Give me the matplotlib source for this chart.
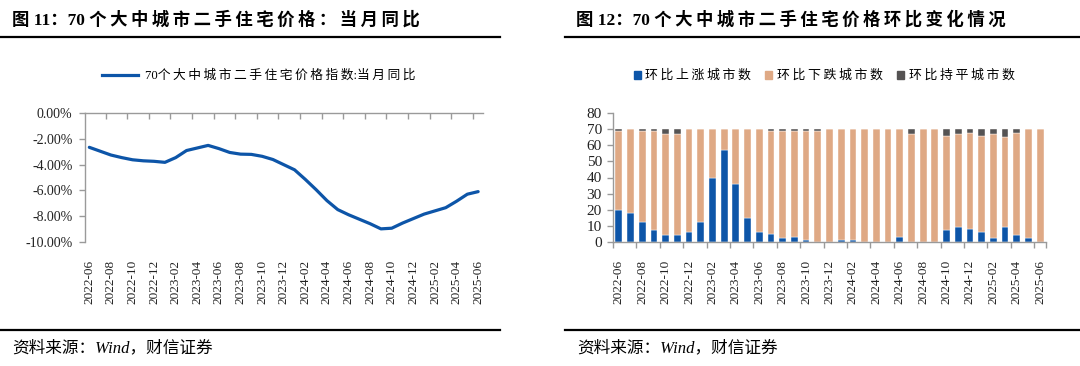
import numpy as np
import pandas as pd
import matplotlib
matplotlib.use('Agg')
import matplotlib.pyplot as plt
from matplotlib.lines import Line2D
from matplotlib.patches import Patch
from matplotlib.ticker import FuncFormatter, FixedLocator

plt.rcParams['font.family'] = ['Liberation Serif', 'Noto Sans CJK SC']
plt.rcParams['axes.unicode_minus'] = False

# --- data ---
months = [p.strftime('%Y-%m') for p in pd.period_range('2022-06', '2025-06', freq='M')]

# 70城二手住宅价格指数 当月同比 (%)
yoy = [-2.65, -2.95, -3.25, -3.45, -3.62, -3.70, -3.74, -3.82, -3.45, -2.90,
       -2.70, -2.50, -2.75, -3.05, -3.18, -3.20, -3.35, -3.60, -4.00, -4.40,
       -5.15, -5.95, -6.80, -7.50, -7.90, -8.25, -8.60, -9.00, -8.95, -8.55,
       -8.20, -7.85, -7.60, -7.35, -6.85, -6.30, -6.10]

# 环比 上涨 / 下跌 / 持平 城市数
up = [20, 18, 12, 7, 4, 4, 6, 12, 40, 57, 36, 15, 6, 5, 2, 3, 1, 0, 0, 1,
      1, 0, 0, 0, 3, 0, 0, 0, 7, 9, 8, 6, 2, 9, 4, 2, 0]
down = [49, 52, 57, 62, 63, 63, 64, 58, 30, 13, 34, 55, 64, 64, 67, 66, 68, 69, 70, 69,
        69, 70, 70, 70, 67, 67, 70, 70, 59, 58, 60, 60, 65, 56, 64, 68, 70]
flat = [1, 0, 1, 1, 3, 3, 0, 0, 0, 0, 0, 0, 0, 1, 1, 1, 1, 1, 0, 0,
        0, 0, 0, 0, 0, 3, 0, 0, 4, 3, 2, 4, 3, 5, 2, 0, 0]

BLUE = '#0d55a8'
TAN = '#dfa985'
DARK = '#555353'
GREY = '#9a9a9a'

W, H = 1080, 366
fig = plt.figure(figsize=(W / 100, H / 100), dpi=100)
fig.patch.set_facecolor('white')


def fx(px):
    return px / W


def fy(py):
    return 1 - py / H


def spaced(s):
    # thin gap between CJK glyphs, like the loose typesetting of the report
    out = ''
    for i, ch in enumerate(s):
        out += ch
        if i + 1 < len(s) and ord(ch) > 0x2e80 and ord(s[i + 1]) > 0x2e80:
            out += '\u2009'
    return out


# --- headers / footers ---
fig.text(fx(12), fy(20), spaced('图 11：70 个大中城市二手住宅价格：当月同比'),
         fontsize=12.5, fontweight='bold', va='center', ha='left')
fig.text(fx(576), fy(20), spaced('图 12：70 个大中城市二手住宅价格环比变化情况'),
         fontsize=12.5, fontweight='bold', va='center', ha='left')
for x0, x1 in [(0, 500), (565, 1080)]:
    fig.add_artist(Line2D([fx(x0), fx(x1)], [fy(36.5)] * 2, color='black', lw=1.6))
    fig.add_artist(Line2D([fx(x0), fx(x1)], [fy(330)] * 2, color='black', lw=1.6))
fig.text(fx(12), fy(348), '资料来源：Wind，财信证券', fontsize=12, style='italic',
         va='center', ha='left')
fig.text(fx(577), fy(348), '资料来源：Wind，财信证券', fontsize=12, style='italic',
         va='center', ha='left')

x = np.arange(len(months))
label_pos = x[::2]
label_txt = months[::2]
bound_pos = list(label_pos - 0.5)

# --- left: line chart ---
ax1 = fig.add_axes([fx(85), fy(241.7), fx(483) - fx(85), fy(113.3) - fy(241.7)])
ax1.plot(x, yoy, color=BLUE, lw=2.3, solid_capstyle='round')
ax1.set_xlim(-0.4, 36.45)
ax1.set_ylim(-10, 0)
ax1.set_yticks(np.arange(-10, 0.1, 2))
ax1.yaxis.set_major_formatter(FuncFormatter(lambda v, p: f'{v:.2f}%'))
for s in ['right', 'bottom']:
    ax1.spines[s].set_visible(False)
for s in ['left', 'top']:
    ax1.spines[s].set_color(GREY)
    ax1.spines[s].set_linewidth(1)
ax1.tick_params(axis='y', direction='out', length=4, width=1, color=GREY,
                labelsize=10, pad=5, labelcolor='#222222')
ax1.set_xticks(label_pos)
ax1.set_xticklabels(label_txt, rotation=90, fontsize=9.5, color='#222222')
ax1.tick_params(axis='x', which='major', bottom=True, top=False, length=0, pad=13)
ax1.xaxis.set_minor_locator(FixedLocator(bound_pos))
ax1.tick_params(axis='x', which='minor', bottom=False, top=True, direction='in',
                length=4, width=1, color=GREY)

ax1.legend(handles=[Line2D([], [], color=BLUE, lw=2.3)],
           labels=[spaced('70个大中城市二手住宅价格指数:当月同比')],
           loc='center', bbox_to_anchor=(fx(259), fy(76)),
           bbox_transform=fig.transFigure, frameon=False, fontsize=9.2,
           handlelength=2.8, handletextpad=0.6)

# --- right: stacked bars ---
ax2 = fig.add_axes([fx(613), fy(241.7), fx(1046) - fx(613), fy(113.3) - fy(241.7)])
bw = 0.58
up_a = np.array(up)
down_a = np.array(down)
ax2.bar(x, up_a, width=bw, color=BLUE, edgecolor='white', linewidth=0.3)
ax2.bar(x, down_a, width=bw, bottom=up_a, color=TAN, edgecolor='white', linewidth=0.3)
ax2.bar(x, flat, width=bw, bottom=up_a + down_a, color=DARK, edgecolor='white', linewidth=0.3)
ax2.set_xlim(-0.5, 36.5)
ax2.set_ylim(0, 80)
ax2.set_yticks(np.arange(0, 81, 10))
for s in ['right', 'top']:
    ax2.spines[s].set_visible(False)
for s in ['left', 'bottom']:
    ax2.spines[s].set_color(GREY)
    ax2.spines[s].set_linewidth(1)
ax2.tick_params(axis='y', direction='out', length=4, width=1, color=GREY,
                labelsize=11, pad=4, labelcolor='#222222')
ax2.set_xticks(label_pos)
ax2.set_xticklabels(label_txt, rotation=90, fontsize=9.5, color='#222222')
ax2.tick_params(axis='x', which='major', length=0, pad=13)
ax2.xaxis.set_minor_locator(FixedLocator(bound_pos + [36.5]))
ax2.tick_params(axis='x', which='minor', direction='out', length=4, width=1, color=GREY)

ax2.legend(handles=[Patch(color=BLUE), Patch(color=TAN), Patch(color=DARK)],
           labels=[spaced(t) for t in ['环比上涨城市数', '环比下跌城市数', '环比持平城市数']],
           loc='center', bbox_to_anchor=(fx(824), fy(76)),
           bbox_transform=fig.transFigure, frameon=False, fontsize=9.3, ncol=3,
           handlelength=0.55, handleheight=0.55, handletextpad=0.35,
           columnspacing=1.1)

fig.savefig('out.png', dpi=100, facecolor='white')
